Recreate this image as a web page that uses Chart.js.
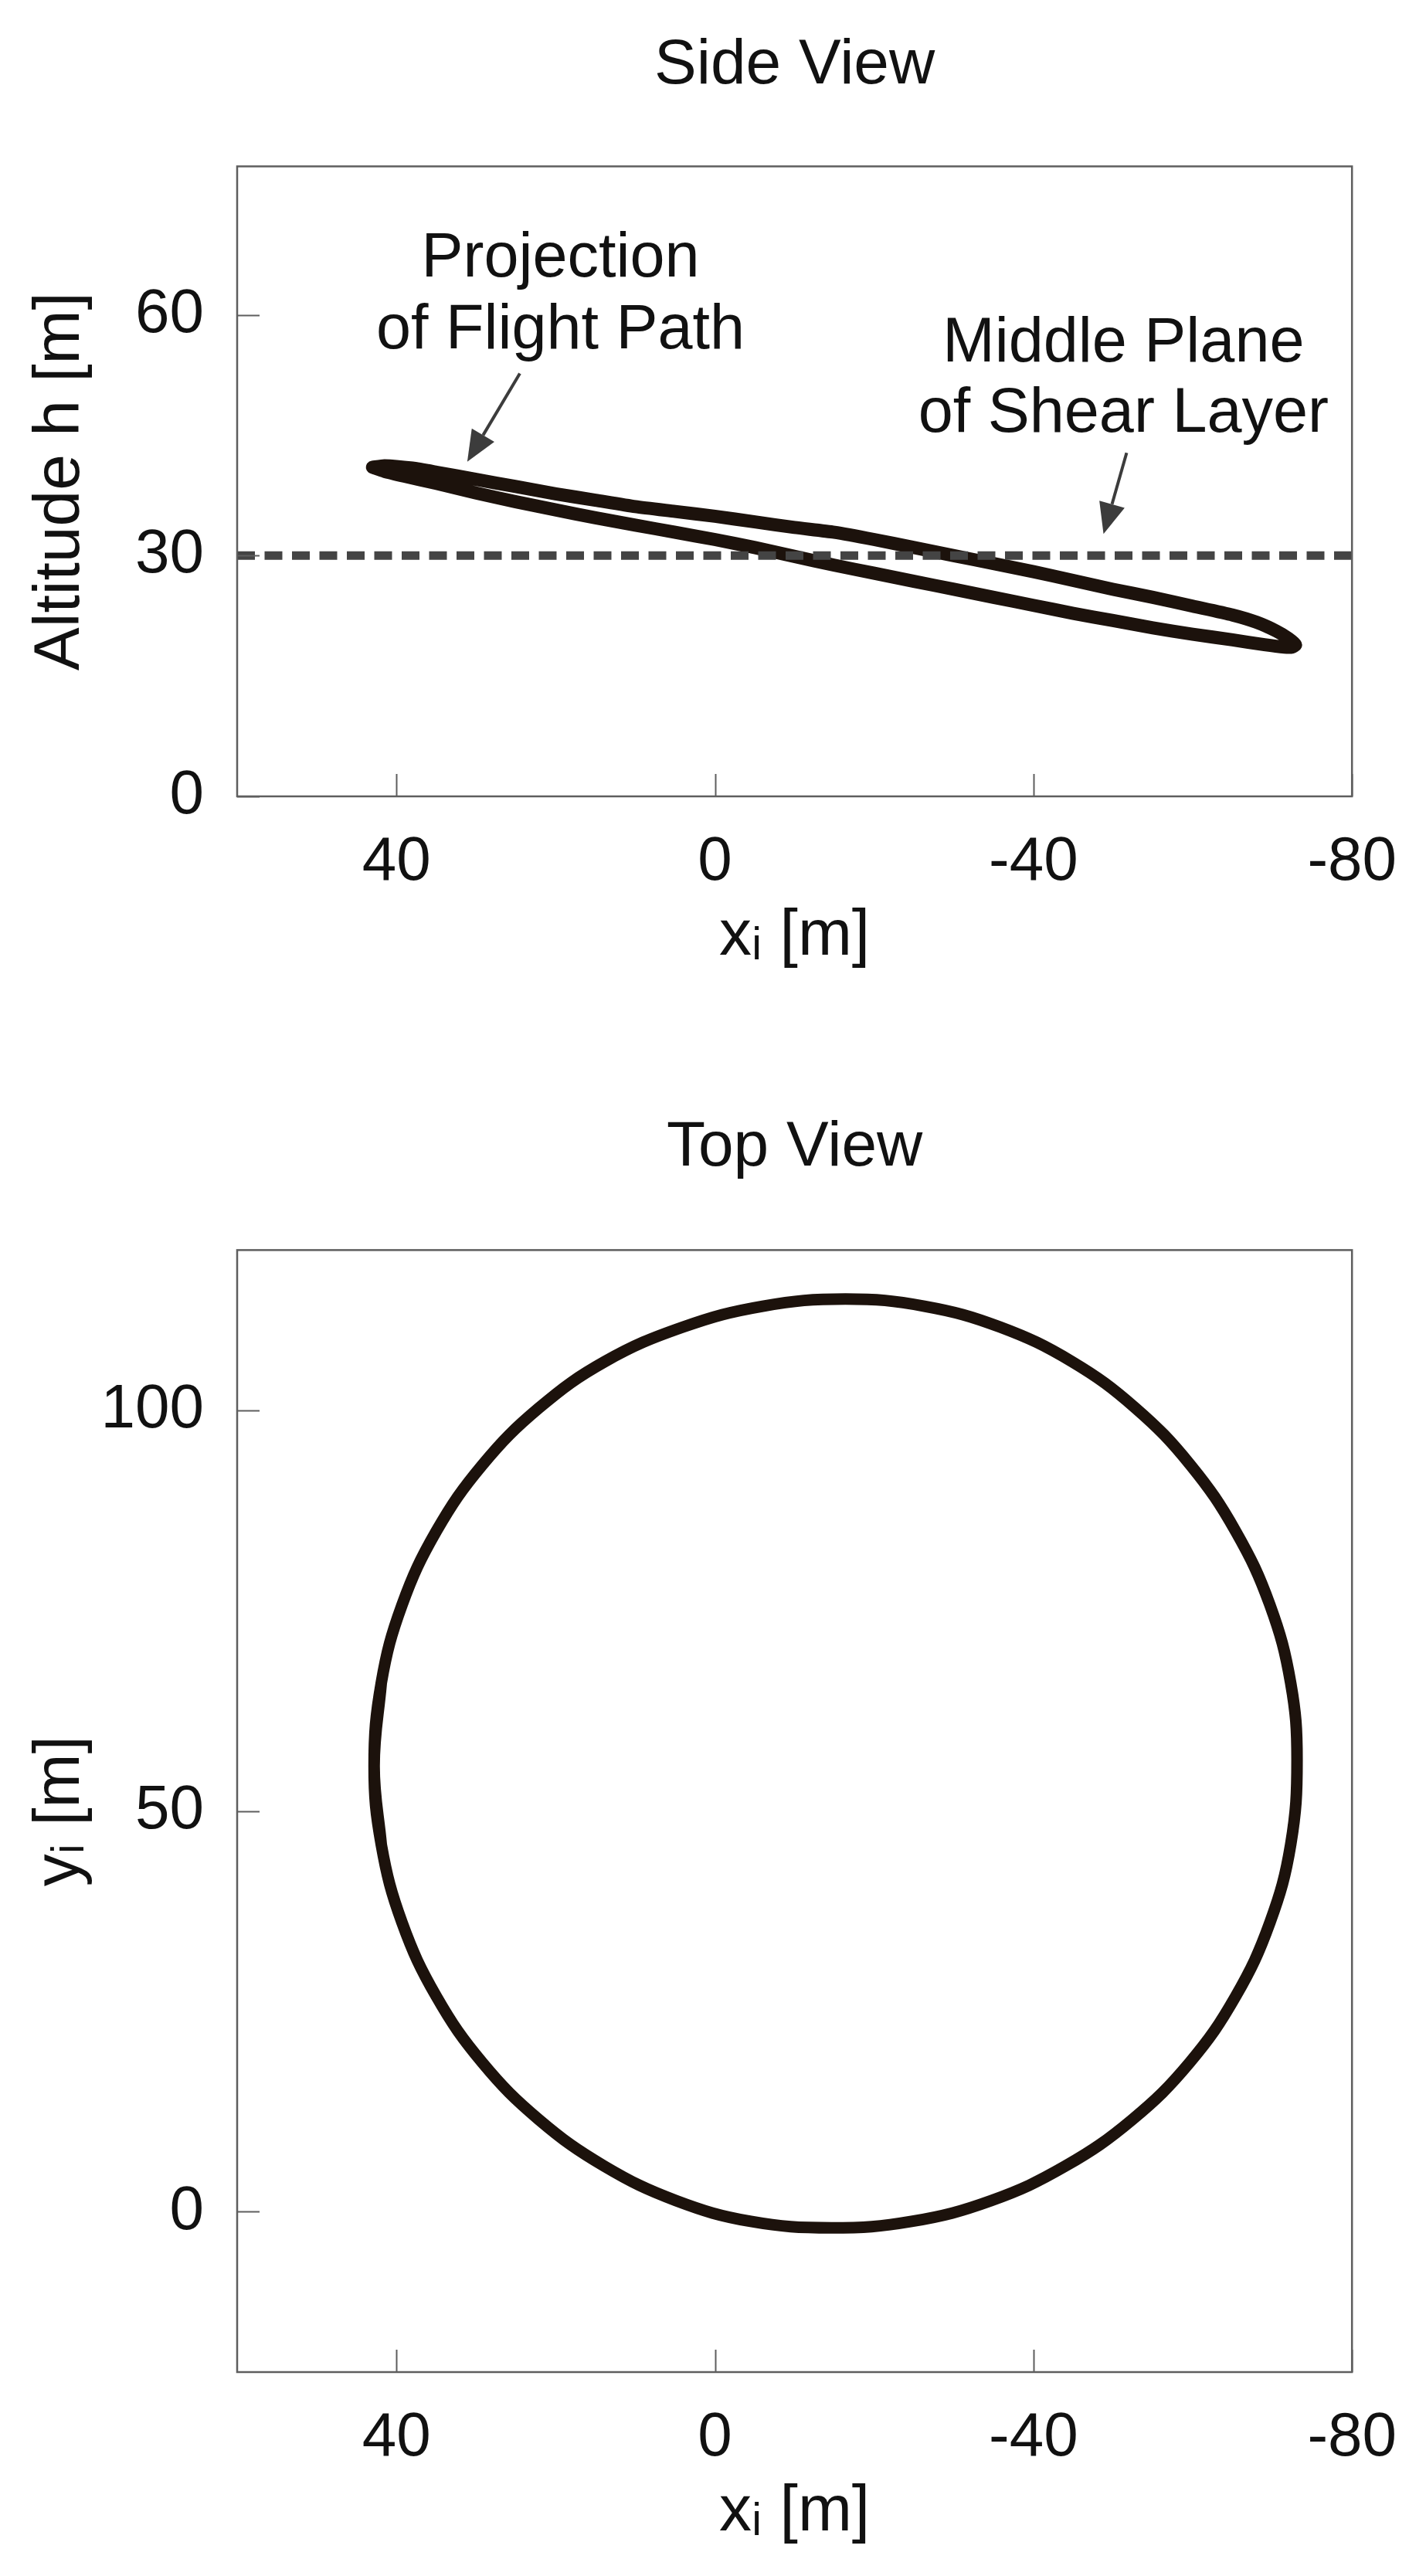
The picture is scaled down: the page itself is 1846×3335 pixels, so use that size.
<!DOCTYPE html>
<html><head><meta charset="utf-8">
<script src="https://cdn.jsdelivr.net/npm/chart.js@4.4.1/dist/chart.umd.min.js"></script>
<style>html,body{margin:0;padding:0;background:#fff;} canvas{display:block;}</style>
</head><body>
<canvas id="sideChart" width="1846" height="1300"></canvas>
<canvas id="topChart" width="1846" height="2035"></canvas>
<script>
// ---- tick labels ----
const xTicks = [40, 0, -40, -80];
const sideYTicks = [0, 30, 60];
const topYTicks = [0, 50, 100];

// ---- Side view: projection of flight path (x_i, altitude h) ----
const sideX = [43.0, 41.5, 38.0, 35.0, 30.0, 25.0, 20.0, 15.0, 10.0, 5.0, 0.0, -5.0, -10.0, -15.0, -20.0, -25.0, -30.0, -35.0, -40.0, -45.0, -50.0, -55.0, -60.0, -65.0, -68.0, -70.5, -72.0, -72.9,
               -72.5, -71.5, -69.0, -65.0, -60.0, -55.0, -50.0, -45.0, -40.0, -35.0, -30.0, -25.0, -20.0, -15.0, -10.0, -5.0, 0.0, 5.0, 10.0, 15.0, 20.0, 25.0, 30.0, 35.0, 39.0, 41.5, 43.0];
const sideH = [41.0, 41.2, 40.9, 40.4, 39.5, 38.6, 37.7, 36.9, 36.1, 35.5, 34.9, 34.2, 33.5, 32.9, 32.0, 31.0, 30.0, 29.0, 28.0, 26.9, 25.8, 24.8, 23.7, 22.6, 21.7, 20.6, 19.7, 18.9,
               18.6, 18.6, 18.9, 19.5, 20.2, 21.0, 21.9, 22.8, 23.8, 24.8, 25.8, 26.8, 27.8, 28.8, 29.9, 31.0, 32.0, 32.9, 33.8, 34.7, 35.7, 36.7, 37.8, 39.0, 39.9, 40.5, 41.0];

// ---- Side view: middle plane of shear layer ----
const shearX = [60, -80];
const shearH = [30, 30];

// ---- Top view: flight path (x_i, y_i); the loop overlaps itself by one point at each end ----
const topX = [41.9, 42.8, 41.9, 39.3, 35.0, 29.2, 22.1, 13.8, 4.0, -6.0, -16.4, -26.3, -35.8, -44.8, -52.8, -59.7, -65.4, -69.7, -72.3, -73.1,
              -72.3, -69.7, -65.4, -59.6, -52.4, -44.0, -34.7, -24.7, -14.6, -4.5, 4.9, 13.9, 22.1, 29.2, 35.0, 39.3, 41.9, 42.8, 41.9];
const topY = [45.8, 55.6, 66.0, 75.7, 84.9, 93.2, 100.3, 106.1, 110.4, 113.0, 113.9, 113.0, 110.4, 106.1, 100.3, 93.2, 84.9, 75.7, 66.0, 56.4,
              45.8, 36.1, 26.9, 18.6, 11.5, 5.7, 1.4, -1.2, -2.0, -1.2, 1.4, 5.7, 11.5, 18.6, 26.9, 36.1, 45.8, 55.6, 66.0];

// ---- annotations (data units of side view) ----
const noteLines = [
  {text: 'Projection', x: 19.4, y: 64.8},
  {text: 'of Flight Path', x: 19.4, y: 55.8},
  {text: 'Middle Plane', x: -51.3, y: 54.2},
  {text: 'of Shear Layer', x: -51.3, y: 45.4}
];
const noteArrows = [
  {x0: 24.5, y0: 52.7, x1: 31.1, y1: 41.7},
  {x0: -51.7, y0: 42.8, x1: -48.8, y1: 32.7}
];

const FONT = "'Liberation Sans', Arial, 'DejaVu Sans', sans-serif";
const pathColor = '#1c120c';
const frameColor = '#5e5e5e';

function pts(xs, ys) { return xs.map((v, i) => ({x: v, y: ys[i]})); }

const framePlugin = {
  id: 'frame',
  afterDatasetsDraw(chart, args, opts) {
    const {ctx, chartArea: a, scales: {x, y}} = chart;
    ctx.save();
    ctx.strokeStyle = frameColor;
    ctx.lineWidth = 2;
    ctx.beginPath();
    x.ticks.forEach(t => {
      const px = Math.round(x.getPixelForValue(t.value)) + 0.5;
      ctx.moveTo(px, a.bottom); ctx.lineTo(px, a.bottom - 29);
    });
    y.ticks.forEach(t => {
      const py = Math.round(y.getPixelForValue(t.value)) + 0.5;
      ctx.moveTo(a.left, py); ctx.lineTo(a.left + 29, py);
    });
    ctx.stroke();
    ctx.lineWidth = 2.5;
    ctx.strokeRect(a.left, a.top, a.right - a.left, a.bottom - a.top);
    // annotations
    if (opts && opts.notes) {
      ctx.fillStyle = '#111';
      ctx.font = "81px " + FONT;
      ctx.textAlign = 'center';
      ctx.textBaseline = 'alphabetic';
      opts.notes.forEach(n => ctx.fillText(n.text, x.getPixelForValue(n.x), y.getPixelForValue(n.y)));
    }
    if (opts && opts.arrows) {
      ctx.strokeStyle = '#3c3c3c';
      ctx.fillStyle = '#3c3c3c';
      ctx.lineWidth = 4;
      opts.arrows.forEach(ar => {
        const sx = x.getPixelForValue(ar.x0), sy = y.getPixelForValue(ar.y0);
        const tx = x.getPixelForValue(ar.x1), ty = y.getPixelForValue(ar.y1);
        const ang = Math.atan2(ty - sy, tx - sx);
        const hl = 40, hw = 17;
        const bx = tx - hl * Math.cos(ang), by = ty - hl * Math.sin(ang);
        ctx.beginPath(); ctx.moveTo(sx, sy); ctx.lineTo(bx, by); ctx.stroke();
        ctx.beginPath();
        ctx.moveTo(tx, ty);
        ctx.lineTo(bx + hw * Math.sin(ang), by - hw * Math.cos(ang));
        ctx.lineTo(bx - hw * Math.sin(ang), by + hw * Math.cos(ang));
        ctx.closePath(); ctx.fill();
      });
    }
    ctx.restore();
  }
};

function makeOptions(cfg) {
  return {
    responsive: false,
    animation: false,
    devicePixelRatio: 1,
    layout: {padding: {left: 0, right: 79, top: 0, bottom: 0}},
    plugins: {
      legend: {display: false},
      tooltip: {enabled: false},
      title: {
        display: true, text: cfg.title, color: '#111', fullSize: false,
        font: {family: FONT, size: 82, weight: 'normal'},
        padding: {top: cfg.titleTop, bottom: cfg.titleBottom}
      },
      frame: cfg.frame || {}
    },
    scales: {
      x: {
        type: 'linear', reverse: true, min: -80, max: 60,
        afterBuildTicks: s => { s.ticks = xTicks.map(v => ({value: v})); },
        afterFit: s => { s.height = cfg.xHeight; },
        grid: {display: false, drawTicks: false},
        border: {display: false},
        ticks: {color: '#111', padding: 38, maxRotation: 0, font: {family: FONT, size: 80}},
        title: {display: true, text: 'xᵢ [m]', color: '#111', font: {family: FONT, size: 84}, padding: {top: 0, bottom: cfg.xTitleBottom}}
      },
      y: {
        type: 'linear', min: cfg.ymin, max: cfg.ymax,
        afterBuildTicks: s => { s.ticks = cfg.yTicks.map(v => ({value: v})); },
        afterFit: s => { s.width = 307; },
        grid: {display: false, drawTicks: false},
        border: {display: false},
        ticks: {color: '#111', padding: 43, font: {family: FONT, size: 80}},
        title: {display: true, text: cfg.yTitle, color: '#111', font: {family: FONT, size: 84}, padding: {top: 28, bottom: 0}}
      }
    }
  };
}

new Chart(document.getElementById('sideChart'), {
  type: 'scatter',
  data: {
    datasets: [
      {label: 'Middle Plane of Shear Layer', data: pts(shearX, shearH), showLine: true, order: 0,
       borderColor: '#444444', borderWidth: 11, borderDash: [23, 12.5], pointRadius: 0, borderCapStyle: 'butt'},
      {label: 'Projection of Flight Path', data: pts(sideX, sideH), showLine: true, order: 1,
       borderColor: pathColor, borderWidth: 17, tension: 0.2, pointRadius: 0,
       borderJoinStyle: 'round', borderCapStyle: 'round'}
    ]
  },
  options: makeOptions({title: 'Side View', titleTop: 36, titleBottom: 81, xHeight: 269, xTitleBottom: 37,
    ymin: 0, ymax: 78.5, yTicks: sideYTicks, yTitle: 'Altitude h [m]',
    frame: {notes: noteLines, arrows: noteArrows}}),
  plugins: [framePlugin]
});

new Chart(document.getElementById('topChart'), {
  type: 'scatter',
  data: {
    datasets: [
      {label: 'Flight Path', data: pts(topX, topY), showLine: true,
       borderColor: pathColor, borderWidth: 15, tension: 0.4, pointRadius: 0,
       borderJoinStyle: 'round', borderCapStyle: 'round'}
    ]
  },
  options: makeOptions({title: 'Top View', titleTop: 137, titleBottom: 83, xHeight: 264, xTitleBottom: 32,
    ymin: -20, ymax: 120, yTicks: topYTicks, yTitle: 'yᵢ [m]'}),
  plugins: [framePlugin]
});
</script>
</body></html>
